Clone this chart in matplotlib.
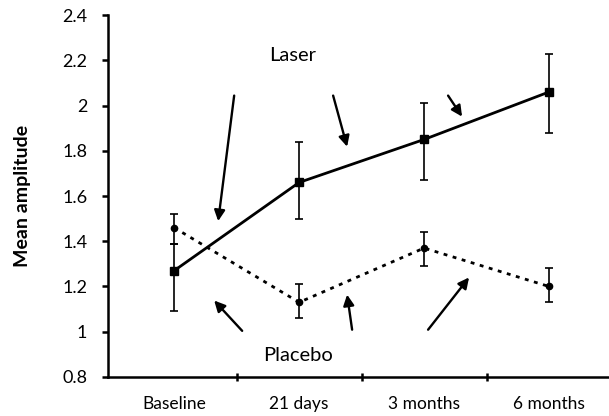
import numpy as np
import matplotlib.pyplot as plt

# time points
categories = ['Baseline', '21 days', '3 months', '6 months']

# laser group: mean and error bar ends
laser_mean = [1.27, 1.66, 1.85, 2.06]
laser_upper = [1.39, 1.84, 2.01, 2.23]
laser_lower = [1.09, 1.50, 1.67, 1.88]

# placebo group
placebo_mean = [1.46, 1.13, 1.37, 1.20]
placebo_upper = [1.52, 1.21, 1.44, 1.28]
placebo_lower = [1.39, 1.06, 1.29, 1.13]

# annotation arrows (tail, head) in data coords
laser_arrows = [((0.48, 2.044), (0.352, 1.489)),
                ((1.272, 2.044), (1.384, 1.818)),
                ((2.192, 2.044), (2.304, 1.951))]
placebo_arrows = [((0.544, 1.004), (0.32, 1.138)),
                  ((1.424, 1.009), (1.384, 1.164)),
                  ((2.032, 1.009), (2.36, 1.24))]

plt.rcParams['font.family'] = ['Lato', 'DejaVu Sans']

fig = plt.figure(figsize=(6.09, 4.16), dpi=100)
ax = fig.add_axes([0.1773, 0.0938, 0.8227, 0.870])

x = np.arange(len(categories))

def draw_group(mean, lower, upper, ls, marker, ms):
    mean = np.array(mean)
    yerr = [mean - np.array(lower), np.array(upper) - mean]
    ax.errorbar(x, mean, yerr=yerr, color='black', lw=2, ls=ls,
                marker=marker, ms=ms, ecolor='black', elinewidth=1.2,
                capsize=3, capthick=1.2)

draw_group(laser_mean, laser_lower, laser_upper, '-', 's', 6)
draw_group(placebo_mean, placebo_lower, placebo_upper, (0, (1.4, 2.0)), 'o', 4.5)

for tail, head in laser_arrows + placebo_arrows:
    ax.annotate('', xy=head, xytext=tail,
                arrowprops=dict(arrowstyle='-|>', color='black', lw=1.7,
                                mutation_scale=16, shrinkA=0, shrinkB=0))

ax.text(0.944, 2.222, 'Laser', fontsize=14.5, ha='center', va='center')
ax.text(0.992, 0.893, 'Placebo', fontsize=14.5, ha='center', va='center')

ax.set_xlim(-0.53, 3.48)
ax.set_ylim(0.8, 2.4)
ax.set_yticks(np.arange(0.8, 2.41, 0.2))
ax.set_yticklabels(['0.8', '1', '1.2', '1.4', '1.6', '1.8', '2', '2.2', '2.4'])
ax.set_xticks(x)
ax.set_xticklabels(categories)
ax.set_xticks([0.5, 1.5, 2.5], minor=True)
ax.tick_params(axis='x', which='major', length=0, pad=14, labelsize=12.5)
ax.tick_params(axis='x', which='minor', length=6, width=1.8, direction='inout')
ax.tick_params(axis='y', length=4, width=1.8, labelsize=13, pad=11)

for side in ['top', 'right']:
    ax.spines[side].set_visible(False)
for side in ['left', 'bottom']:
    ax.spines[side].set_linewidth(1.8)

ax.set_ylabel('Mean amplitude', fontsize=14, fontweight='bold', labelpad=22)

fig.savefig('out.png', dpi=100)
